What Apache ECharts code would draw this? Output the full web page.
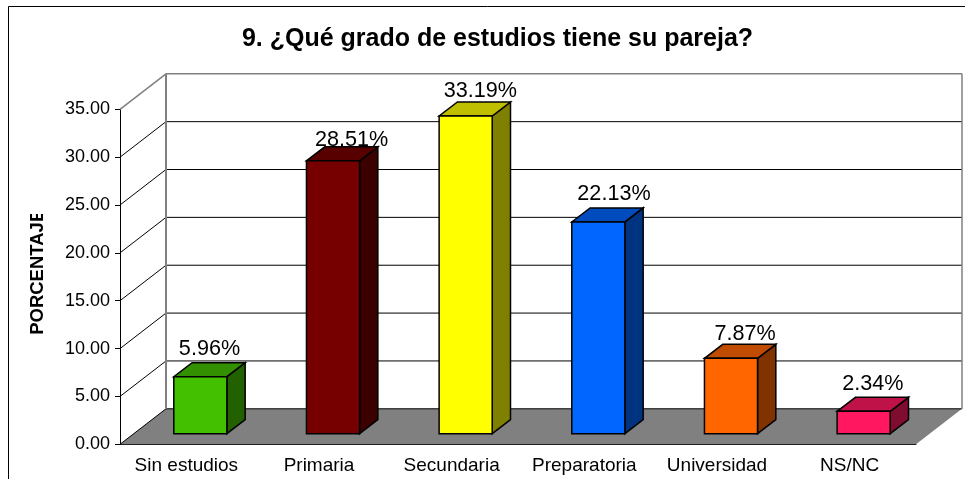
<!DOCTYPE html>
<html>
<head>
<meta charset="utf-8">
<style>
  html, body { margin: 0; padding: 0; background: #fff; }
  #chart { width: 965px; height: 479px; }
</style>
<script src="https://cdn.jsdelivr.net/npm/echarts@6/dist/echarts.min.js"></script>
</head>
<body>
<div id="chart"></div>
<script>
const categories = ['Sin estudios', 'Primaria', 'Secundaria', 'Preparatoria', 'Universidad', 'NS/NC']
const values = [5.96, 28.51, 33.19, 22.13, 7.87, 2.34]
const yTicks = [0, 5, 10, 15, 20, 25, 30, 35]

const frontColors = ['#43c000', '#760000', '#ffff00', '#0066ff', '#ff6600', '#ff1860']
const topColors = ['#339000', '#580000', '#bfbf00', '#004cbf', '#bf4c00', '#bf1248']
const sideColors = ['#226000', '#3b0000', '#808000', '#003380', '#803300', '#800c30']

// excel moved a few of the labels by hand
const labelDx = [0, 9.5, 5.5, 6.5, 5, 0]
const labelDy = [0, 7, 3, 0, 3, 0]

const FONT = '"Liberation Sans", Arial, sans-serif'
const wallDepth = [46, -35.5]
const barOffset = [14, -10.6]
const barDepth = [18.3, -14]

const chart = echarts.init(document.getElementById('chart'))

const shift = (p, d) => [p[0] + d[0], p[1] + d[1]]
const poly = (points, fill, stroke, lineWidth) => ({
  type: 'polygon',
  shape: { points },
  style: { fill, stroke: stroke || 'none', lineWidth: lineWidth || 0 }
})
const line = (a, b, stroke, lineWidth) => ({
  type: 'line',
  shape: { x1: a[0], y1: a[1], x2: b[0], y2: b[1] },
  style: { stroke, lineWidth }
})

function renderFloor(params, api) {
  const cs = params.coordSys
  const y = api.coord([0, 0])[1]
  const a = [cs.x, y]
  const b = [cs.x + cs.width, y]
  return poly([a, b, shift(b, wallDepth), shift(a, wallDepth)], '#808080')
}

function renderWall(params, api) {
  const cs = params.coordSys
  const v = api.value(0)
  const y = api.coord([0, v])[1]
  const a = [cs.x, y]
  const back = shift(a, wallDepth)
  const backRight = [cs.x + cs.width + wallDepth[0], back[1]]
  const isTop = v === yTicks[yTicks.length - 1]
  const color = isTop ? '#808080' : '#000'
  const children = [line(back, backRight, color, isTop ? 1.5 : 1), line(a, back, color, isTop ? 1.5 : 1)]
  if (isTop) {
    const floorY = api.coord([0, 0])[1] + wallDepth[1]
    children.push(line(back, [back[0], floorY], '#808080', 2))
    children.push(line(backRight, [backRight[0], floorY], '#808080', 1.5))
  }
  return { type: 'group', children }
}

function renderBar(params, api) {
  const i = api.value(0)
  const w = api.size([1, 0])[0] * 0.4
  const base = shift(api.coord([i, 0]), barOffset)
  const top = shift(api.coord([i, api.value(1)]), barOffset)
  const tl = [base[0] - w / 2, top[1]]
  const tr = [base[0] + w / 2, top[1]]
  const bl = [base[0] - w / 2, base[1]]
  const br = [base[0] + w / 2, base[1]]
  return {
    type: 'group',
    children: [
      poly([tr, br, shift(br, barDepth), shift(tr, barDepth)], sideColors[i], '#000', 1.5),
      poly([tl, tr, shift(tr, barDepth), shift(tl, barDepth)], topColors[i], '#000', 1.5),
      poly([tl, tr, br, bl], frontColors[i], '#000', 1.5),
      {
        type: 'text',
        style: {
          text: values[i].toFixed(2) + '%',
          x: base[0] + barDepth[0] / 2 + labelDx[i],
          y: top[1] + barDepth[1] - 13.5 + labelDy[i],
          align: 'center',
          verticalAlign: 'middle',
          fontFamily: FONT,
          fontSize: 21.6,
          fill: '#000'
        }
      }
    ]
  }
}

chart.setOption({
  animation: false,
  backgroundColor: '#fff',
  title: {
    text: '9. ¿Qué grado de estudios tiene su pareja?',
    left: 492.5,
    top: 22,
    textAlign: 'center',
    textStyle: { fontFamily: FONT, fontSize: 25, fontWeight: 'bold', color: '#000' }
  },
  grid: { left: 120, right: 49, top: 109.3, bottom: 34.7 },
  xAxis: {
    type: 'category',
    data: categories,
    axisLine: { onZero: false, lineStyle: { color: '#000', width: 1 } },
    axisTick: { length: 5, lineStyle: { color: '#000' } },
    axisLabel: { margin: 12, fontFamily: FONT, fontSize: 19, color: '#000', interval: 0 },
    splitLine: { show: false }
  },
  yAxis: {
    type: 'value',
    min: 0,
    max: 35,
    interval: 5,
    name: 'PORCENTAJE',
    nameLocation: 'middle',
    nameRotate: 90,
    nameGap: 73,
    nameTextStyle: { fontFamily: FONT, fontSize: 18.5, fontWeight: 'bold', color: '#000', padding: [0, 0, 0, 9] },
    axisLine: { show: true, lineStyle: { color: '#000', width: 1 } },
    axisTick: { show: true, length: 5, lineStyle: { color: '#000' } },
    axisLabel: {
      margin: 10,
      fontFamily: FONT,
      fontSize: 18,
      color: '#000',
      formatter: v => v.toFixed(2)
    },
    splitLine: { show: false }
  },
  series: [
    { type: 'custom', name: 'piso', data: [[0]], renderItem: renderFloor, z: 1, silent: true },
    { type: 'custom', name: 'paredes', data: yTicks.map(v => [v]), renderItem: renderWall, z: 1, silent: true, encode: { y: 0 } },
    { type: 'custom', name: 'barras', data: values.map((v, i) => [i, v]), renderItem: renderBar, z: 3, silent: true, encode: { x: 0, y: 1 } }
  ],
  graphic: [
    {
      type: 'rect',
      silent: true,
      shape: { x: 8.5, y: 6.5, width: 1000, height: 500 },
      style: { fill: 'none', stroke: '#000', lineWidth: 1 }
    },
    {
      // the last letter of the axis name is cut off in the original
      type: 'rect',
      silent: true,
      z: 50,
      shape: { x: 20, y: 195, width: 40, height: 19 },
      style: { fill: '#fff' }
    }
  ]
})
</script>
</body>
</html>
